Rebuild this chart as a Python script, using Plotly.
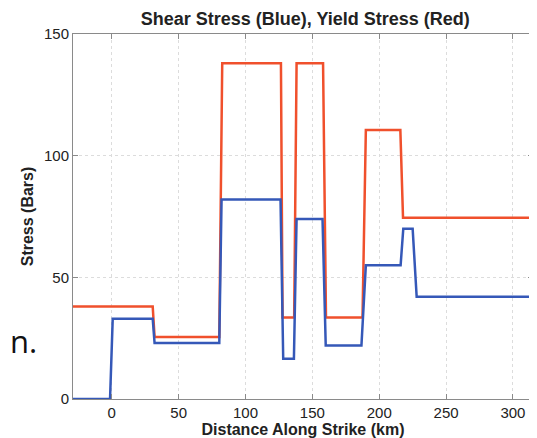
import plotly.graph_objects as go

# Yield stress (red) step profile
red_x = [-29, 30.6, 32, 80.4, 82.6, 126.5, 127.7, 136.4, 138.2, 158, 160.2, 187.5, 190, 215.8, 217.8, 315]
red_y = [38, 38, 25.5, 25.5, 138, 138, 33.5, 33.5, 138, 138, 33.5, 33.5, 110.5, 110.5, 74.5, 74.5]

# Shear stress (blue) step profile
blue_x = [-29, -1.3, 0.7, 30.6, 32, 80.4, 82.1, 126.2, 128.2, 136.2, 138.2, 157.6, 160, 186.7, 190, 216, 218, 225, 228, 315]
blue_y = [0, 0, 33, 33, 23, 23, 82, 82, 16.5, 16.5, 74, 74, 22, 22, 55, 55, 70, 70, 42, 42]

x_ticks = [0, 50, 100, 150, 200, 250, 300]
y_ticks = [0, 50, 100, 150]

FONT = "Liberation Sans, Arial, Helvetica, sans-serif"

fig = go.Figure()
fig.add_trace(go.Scatter(x=red_x, y=red_y, mode="lines",
                         line=dict(color="#f0502c", width=2.5), hoverinfo="skip"))
fig.add_trace(go.Scatter(x=blue_x, y=blue_y, mode="lines",
                         line=dict(color="#3558b8", width=2.5), hoverinfo="skip"))

axis_common = dict(
    showline=True, linecolor="#8a8a8a", linewidth=1, mirror="ticks",
    ticks="inside", ticklen=5, tickcolor="#8a8a8a",
    showgrid=True, gridcolor="#dcdcdc", griddash="dot", gridwidth=1,
    zeroline=False, automargin=False,
    tickfont=dict(family=FONT, size=15, color="#222"),
)

# page body has an 8px default margin; figure sized to fit the 537x438 window
fig.update_layout(
    width=529, height=430,
    margin=dict(l=65, r=4, t=26, b=39, autoexpand=False),
    paper_bgcolor="white", plot_bgcolor="white",
    showlegend=False,
    title=dict(text="<b>Shear Stress (Blue), Yield Stress (Red)</b>",
               xref="paper", x=0.505, xanchor="center",
               yref="container", y=1 - 11 / 430, yanchor="middle", automargin=False,
               font=dict(family=FONT, size=18, color="#222")),
    xaxis=dict(range=[-29, 315], tickvals=x_ticks, **axis_common,
               title=dict(text="<b>Distance Along Strike (km)</b>", standoff=0,
                          font=dict(family=FONT, size=16, color="#222"))),
    yaxis=dict(range=[0, 150], tickvals=y_ticks, **axis_common,
               title=dict(text="<b>Stress (Bars)</b>", standoff=6,
                          font=dict(family=FONT, size=16, color="#222"))),
)

fig.add_annotation(text="n.", xref="paper", yref="paper", x=-65 / 460, y=(399.5 - 341) / 365,
                   xanchor="left", yanchor="middle", showarrow=False,
                   font=dict(family="Open Sans, sans-serif", size=31, color="#111"))

fig.write_html("out.html")
